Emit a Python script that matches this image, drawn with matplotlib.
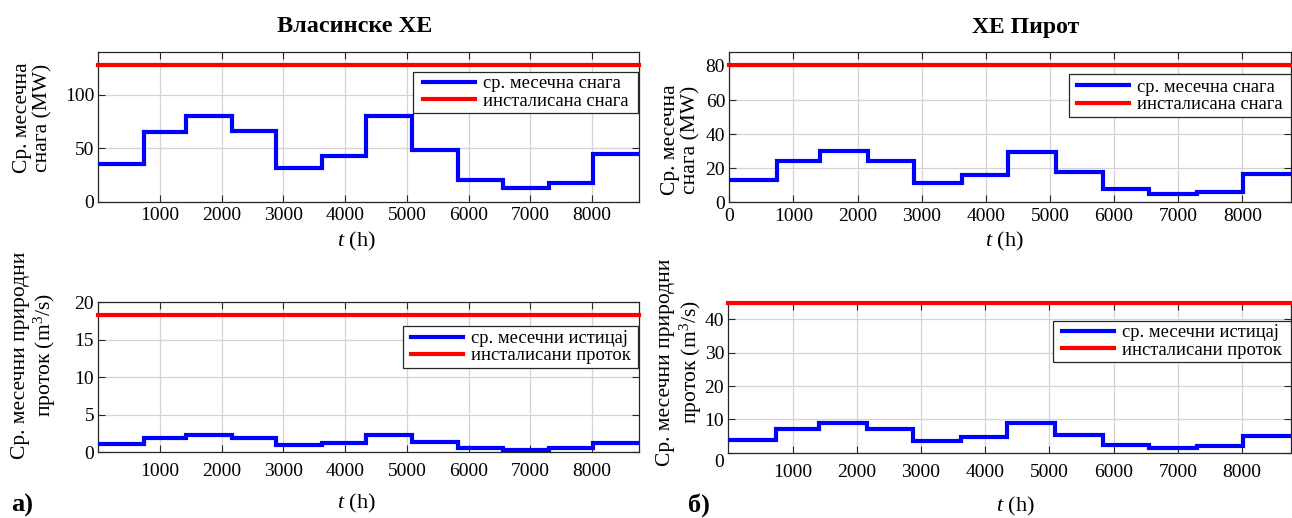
import matplotlib
matplotlib.use("Agg")
import matplotlib.pyplot as plt
from matplotlib.patches import Rectangle
from matplotlib.transforms import ScaledTranslation

plt.rcParams["font.family"] = ["Liberation Serif", "DejaVu Serif"]
plt.rcParams["mathtext.fontset"] = "custom"
plt.rcParams["mathtext.rm"] = "Liberation Serif"
plt.rcParams["mathtext.it"] = "Liberation Serif:italic"

# Month boundaries of a (non-leap) year, in hours
month_edges_h = [0, 744, 1416, 2160, 2880, 3624, 4344, 5088, 5832, 6552, 7296, 8016, 8760]

# Власинске ХЕ
vlasina_power = [35.4, 64.9, 80.6, 66.0, 31.7, 42.9, 80.3, 48.9, 20.4, 13.2, 17.6, 44.8]
vlasina_power_installed = 128.5
vlasina_flow = [1.05, 1.88, 2.27, 1.86, 0.92, 1.27, 2.27, 1.36, 0.61, 0.35, 0.53, 1.27]
vlasina_flow_installed = 18.35

# ХЕ Пирот
pirot_power = [13.0, 24.3, 30.1, 24.5, 11.5, 16.0, 29.8, 17.8, 7.7, 4.8, 6.3, 16.4]
pirot_power_installed = 80.3
pirot_flow = [3.9, 7.1, 8.9, 7.1, 3.5, 4.7, 8.8, 5.3, 2.3, 1.4, 1.9, 4.9]
pirot_flow_installed = 45.0

x_ticks_top_left = [1000, 2000, 3000, 4000, 5000, 6000, 7000, 8000]
x_ticks_top_right = [0, 1000, 2000, 3000, 4000, 5000, 6000, 7000, 8000]
x_ticks_bottom = [1000, 2000, 3000, 4000, 5000, 6000, 7000, 8000]

W, H = 1292, 518
fig = plt.figure(figsize=(W / 100, H / 100), dpi=100)


def px_axes(left, right, top, bottom):
    return fig.add_axes([left / W, 1 - bottom / H, (right - left) / W, (bottom - top) / H])


AX_COLOR = "#262626"
TICK_FS = 14
LEG_FS = 13.3
LABEL_FS = 15.5


def style(ax, ylim, yticks, xticks, xpad):
    ax.set_xlim(0, 8760)
    ax.set_ylim(*ylim)
    ax.set_yticks(yticks)
    ax.set_xticks(xticks)
    ax.set_axisbelow(True)
    ax.grid(True, color="#d4d4d4", linewidth=0.9)
    ax.tick_params(direction="in", top=True, right=True, length=5, width=0.8,
                   colors=AX_COLOR, labelsize=TICK_FS, labelcolor="black")
    ax.tick_params(axis="x", pad=xpad)
    ax.tick_params(axis="y", pad=3)
    for s in ax.spines.values():
        s.set_color(AX_COLOR)
        s.set_linewidth(0.9)


def draw(ax, values, installed, lab_mean, lab_inst, box):
    ax.stairs(values, month_edges_h, baseline=None, color="#0000ff",
              linewidth=3.0, label=lab_mean, zorder=3)
    ax.axhline(installed, color="#ff0000", linewidth=3.0, label=lab_inst,
               zorder=3, clip_on=False)
    # legend frame (figure pixels: left, right, top, bottom)
    l, r, t, b = box
    frame = Rectangle((l / W, 1 - b / H), (r - l) / W, (b - t) / H,
                      transform=fig.transFigure, facecolor="white",
                      edgecolor=AX_COLOR, linewidth=0.9, zorder=4)
    fig.add_artist(frame)
    leg = ax.legend(loc="center", bbox_to_anchor=((l + r) / 2 / W, 1 - (t + b) / 2 / H),
                    bbox_transform=fig.transFigure, borderaxespad=0, borderpad=0,
                    fontsize=LEG_FS, frameon=False, handlelength=2.8,
                    handletextpad=0.43, labelspacing=0.02)
    leg.set_zorder(5)
    fig.add_artist(leg)


ax_tl = px_axes(98.3, 639.0, 52.3, 201.7)
ax_tr = px_axes(729.3, 1291.0, 52.3, 202.3)
ax_bl = px_axes(98.3, 639.0, 302.3, 452.3)
ax_br = px_axes(728.3, 1291.0, 302.7, 452.7)

style(ax_tl, (0, 140), [0, 50, 100], x_ticks_top_left, 4)
style(ax_tr, (0, 88), [0, 20, 40, 60, 80], x_ticks_top_right, 4)
style(ax_bl, (0, 20), [0, 5, 10, 15, 20], x_ticks_bottom, 8)
style(ax_br, (0, 45), [0, 10, 20, 30, 40], x_ticks_bottom, 8)

# the zero label of the lower right panel sits a little below its tick
zero_lab = ax_br.yaxis.get_major_ticks()[0].label1
zero_lab.set_transform(zero_lab.get_transform()
                       + ScaledTranslation(0, -8 / 100, fig.dpi_scale_trans))

draw(ax_tl, vlasina_power, vlasina_power_installed,
     "ср. месечна снага", "инсталисана снага", (413, 638, 71.7, 113.3))
draw(ax_tr, pirot_power, pirot_power_installed,
     "ср. месечна снага", "инсталисана снага", (1069, 1290.5, 74.3, 117.3))
draw(ax_bl, vlasina_flow, vlasina_flow_installed,
     "ср. месечни истицај", "инсталисани проток", (403.3, 638.3, 326, 368.3))
draw(ax_br, pirot_flow, pirot_flow_installed,
     "ср. месечни истицај", "инсталисани проток", (1053.3, 1290.5, 321, 361.7))


def ftext(x, y, s, **kw):
    fig.text(x / W, 1 - y / H, s, **kw)


# Titles
ftext(355, 27, "Власинске ХЕ", fontsize=17.5, fontweight="bold", ha="center", va="center")
ftext(1026, 27, "ХЕ Пирот", fontsize=17, fontweight="bold", ha="center", va="center")

# Axis labels
xl = r"$t$ (h)"
ftext(356, 241, xl, fontsize=16, ha="center", va="center")
ftext(1004, 241, xl, fontsize=16, ha="center", va="center")
ftext(356, 503, xl, fontsize=16, ha="center", va="center")
ftext(1015, 506, xl, fontsize=16, ha="center", va="center")

ftext(32.8, 118, "Ср. месечна\nснага (MW)", fontsize=LABEL_FS, rotation=90,
      ha="center", va="center", multialignment="center", linespacing=1.1)
ftext(681, 140, "Ср. месечна\nснага (MW)", fontsize=LABEL_FS, rotation=90,
      ha="center", va="center", multialignment="center", linespacing=1.1)
ftext(34.5, 355, "Ср. месечни природни\nпроток (m$^3$/s)", fontsize=LABEL_FS, rotation=90,
      ha="center", va="center", multialignment="center", linespacing=1.1)
ftext(680, 362, "Ср. месечни природни\nпроток (m$^3$/s)", fontsize=LABEL_FS, rotation=90,
      ha="center", va="center", multialignment="center", linespacing=1.1)

# Panel letters
ftext(22, 505, "а)", fontsize=19, fontweight="bold", ha="center", va="center")
ftext(699, 505, "б)", fontsize=19, fontweight="bold", ha="center", va="center")

fig.savefig("out.png", dpi=100)
